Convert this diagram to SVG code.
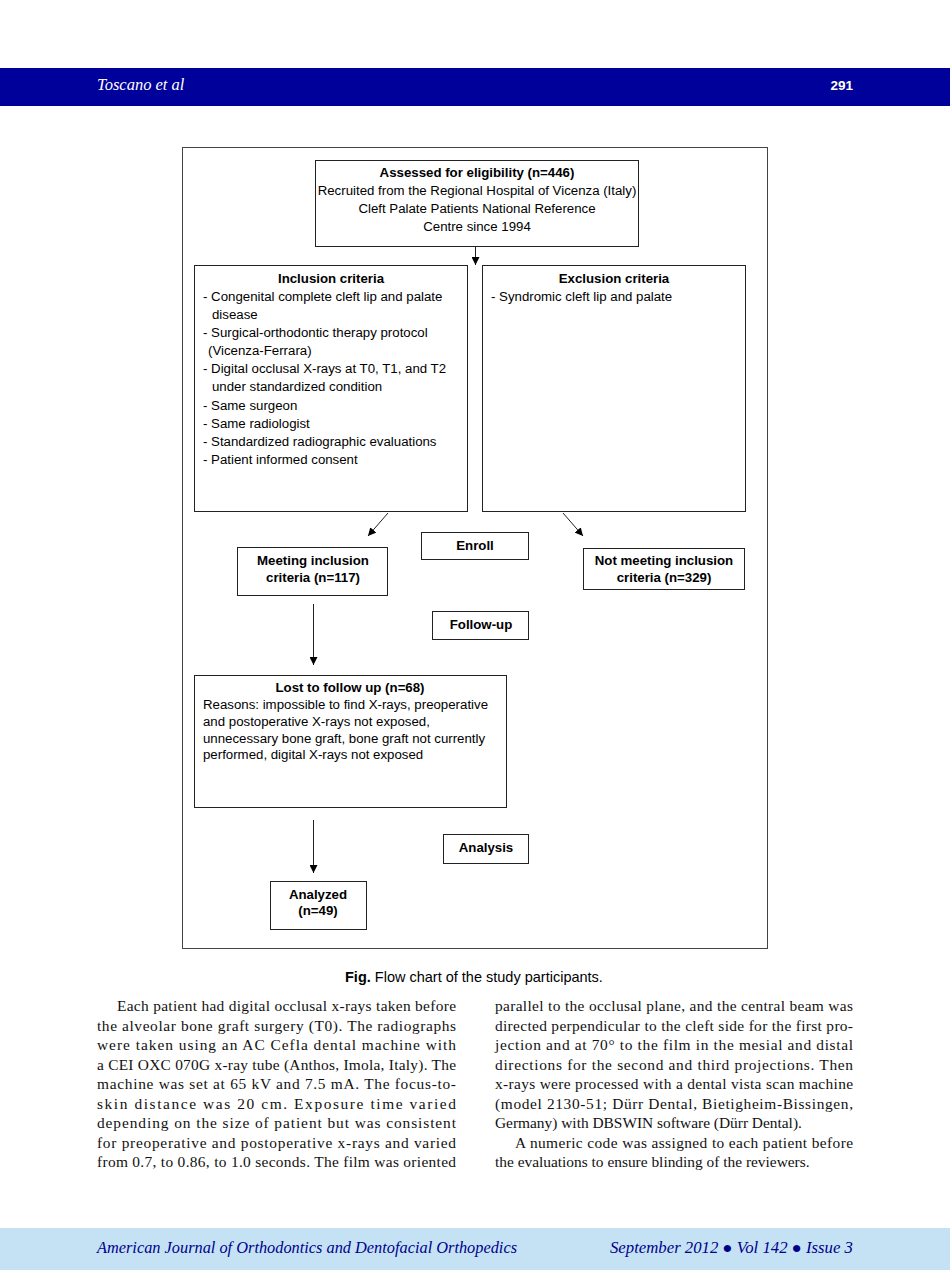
<svg xmlns="http://www.w3.org/2000/svg" width="950" height="1272" viewBox="0 0 950 1272">
<style>
.bx{fill:#fff;stroke:#222;stroke-width:1}
.t{font-family:"Liberation Sans",Arial,sans-serif;font-size:13.25px;fill:#000}
.b{font-weight:bold}
.c{text-anchor:middle}
.body{font-family:"Liberation Serif","Times New Roman",serif;font-size:15.4px;fill:#111}
.ft{font-family:"Liberation Serif",serif;font-style:italic;font-size:16.3px;fill:#00008b}
.cn{stroke:#222;stroke-width:1;fill:none;marker-end:url(#ah)}
</style>
<defs>
<marker id="ah" viewBox="0 0 10 10" refX="10" refY="5" markerWidth="8" markerHeight="8" markerUnits="userSpaceOnUse" orient="auto">
<path d="M0,0 L10,5 L0,10 z" fill="#000"/>
</marker>
</defs>
<rect width="950" height="1272" fill="#fff"/>
<g id="header">
<rect x="0" y="68" width="950" height="38" fill="#00009a"/>
<text x="97" y="90" font-family="Liberation Serif,serif" font-style="italic" font-size="16.5" fill="#fff">Toscano et al</text>
<text x="853" y="90" font-family="Liberation Sans,sans-serif" font-weight="bold" font-size="13.5" fill="#fff" text-anchor="end">291</text>
</g>
<rect id="frame" x="182.5" y="147.5" width="585" height="801" fill="none" stroke="#444" stroke-width="1"/>
<g id="connectors">
<line class="cn" x1="475.5" y1="247" x2="475.5" y2="265"/>
<line class="cn" x1="388" y1="513" x2="368" y2="536"/>
<line class="cn" x1="563" y1="513" x2="583" y2="536"/>
<line class="cn" x1="313.5" y1="604" x2="313.5" y2="665"/>
<line class="cn" x1="313.5" y1="820" x2="313.5" y2="873"/>
</g>
<g id="assessed">
<rect class="bx" x="315.5" y="160.5" width="323" height="86"/>
<text class="t b c" x="477" y="177">Assessed for eligibility (n=446)</text>
<text class="t c" x="477" y="195">Recruited from the Regional Hospital of Vicenza (Italy)</text>
<text class="t c" x="477" y="213">Cleft Palate Patients National Reference</text>
<text class="t c" x="477" y="231">Centre since 1994</text>
</g>
<g id="inclusion">
<rect class="bx" x="194.5" y="265.5" width="273" height="246"/>
<text class="t b c" x="331" y="283">Inclusion criteria</text>
<text class="t" x="203" y="301">- Congenital complete cleft lip and palate</text>
<text class="t" x="212" y="319">disease</text>
<text class="t" x="203" y="337">- Surgical-orthodontic therapy protocol</text>
<text class="t" x="208" y="355">(Vicenza-Ferrara)</text>
<text class="t" x="203" y="373">- Digital occlusal X-rays at T0, T1, and T2</text>
<text class="t" x="212" y="391">under standardized condition</text>
<text class="t" x="203" y="410">- Same surgeon</text>
<text class="t" x="203" y="428">- Same radiologist</text>
<text class="t" x="203" y="446">- Standardized radiographic evaluations</text>
<text class="t" x="203" y="464">- Patient informed consent</text>
</g>
<g id="exclusion">
<rect class="bx" x="482.5" y="265.5" width="263" height="246"/>
<text class="t b c" x="614" y="283">Exclusion criteria</text>
<text class="t" x="491" y="301">- Syndromic cleft lip and palate</text>
</g>
<g id="enroll">
<rect class="bx" x="421.5" y="532.5" width="107" height="27"/>
<text class="t b c" x="475" y="550">Enroll</text>
</g>
<g id="meeting">
<rect class="bx" x="237.5" y="547.5" width="150" height="48"/>
<text class="t b c" x="313" y="565">Meeting inclusion</text>
<text class="t b c" x="313" y="582">criteria (n=117)</text>
</g>
<g id="notmeeting">
<rect class="bx" x="583.5" y="548.5" width="161" height="41"/>
<text class="t b c" x="664" y="565">Not meeting inclusion</text>
<text class="t b c" x="664" y="582">criteria (n=329)</text>
</g>
<g id="followup">
<rect class="bx" x="432.5" y="611.5" width="96" height="28"/>
<text class="t b c" x="481" y="629">Follow-up</text>
</g>
<g id="lost">
<rect class="bx" x="194.5" y="675.5" width="312" height="132"/>
<text class="t b c" x="350" y="692">Lost to follow up (n=68)</text>
<text class="t" x="203" y="709">Reasons: impossible to find X-rays, preoperative</text>
<text class="t" x="203" y="726">and postoperative X-rays not exposed,</text>
<text class="t" x="203" y="743">unnecessary bone graft, bone graft not currently</text>
<text class="t" x="203" y="759">performed, digital X-rays not exposed</text>
</g>
<g id="analysis">
<rect class="bx" x="443.5" y="834.5" width="85" height="29"/>
<text class="t b c" x="486" y="852">Analysis</text>
</g>
<g id="analyzed">
<rect class="bx" x="270.5" y="881.5" width="96" height="48"/>
<text class="t b c" x="318" y="899">Analyzed</text>
<text class="t b c" x="318" y="915">(n=49)</text>
</g>
<g id="caption">
<text x="345" y="982" font-family="Liberation Sans,Arial,sans-serif" font-size="14.5" fill="#000"><tspan font-weight="bold">Fig.</tspan> Flow chart of the study participants.</text>
</g>
<g id="bodytext">
<text class="body" x="117" y="1011" textLength="339" lengthAdjust="spacing">Each patient had digital occlusal x-rays taken before</text>
<text class="body" x="97" y="1031" textLength="359" lengthAdjust="spacing">the alveolar bone graft surgery (T0). The radiographs</text>
<text class="body" x="97" y="1050" textLength="359" lengthAdjust="spacing">were taken using an AC Cefla dental machine with</text>
<text class="body" x="97" y="1070" textLength="359" lengthAdjust="spacing">a CEI OXC 070G x-ray tube (Anthos, Imola, Italy). The</text>
<text class="body" x="97" y="1089" textLength="359" lengthAdjust="spacing">machine was set at 65 kV and 7.5 mA. The focus-to-</text>
<text class="body" x="97" y="1109" textLength="359" lengthAdjust="spacing">skin distance was 20 cm. Exposure time varied</text>
<text class="body" x="97" y="1128" textLength="359" lengthAdjust="spacing">depending on the size of patient but was consistent</text>
<text class="body" x="97" y="1148" textLength="359" lengthAdjust="spacing">for preoperative and postoperative x-rays and varied</text>
<text class="body" x="97" y="1167" textLength="359" lengthAdjust="spacing">from 0.7, to 0.86, to 1.0 seconds. The film was oriented</text>
<text class="body" x="495" y="1011" textLength="358" lengthAdjust="spacing">parallel to the occlusal plane, and the central beam was</text>
<text class="body" x="495" y="1031" textLength="358" lengthAdjust="spacing">directed perpendicular to the cleft side for the first pro-</text>
<text class="body" x="495" y="1050" textLength="358" lengthAdjust="spacing">jection and at 70° to the film in the mesial and distal</text>
<text class="body" x="495" y="1070" textLength="358" lengthAdjust="spacing">directions for the second and third projections. Then</text>
<text class="body" x="495" y="1089" textLength="358" lengthAdjust="spacing">x-rays were processed with a dental vista scan machine</text>
<text class="body" x="495" y="1109" textLength="358" lengthAdjust="spacing">(model 2130-51; Dürr Dental, Bietigheim-Bissingen,</text>
<text class="body" x="495" y="1128">Germany) with DBSWIN software (Dürr Dental).</text>
<text class="body" x="515" y="1148" textLength="338" lengthAdjust="spacing">A numeric code was assigned to each patient before</text>
<text class="body" x="495" y="1167">the evaluations to ensure blinding of the reviewers.</text>
</g>
<g id="footer">
<rect x="0" y="1228" width="950" height="42" fill="#c5e2f5"/>
<text class="ft" x="97" y="1253" textLength="420" lengthAdjust="spacingAndGlyphs">American Journal of Orthodontics and Dentofacial Orthopedics</text>
<text class="ft" x="610" y="1253" textLength="243" lengthAdjust="spacingAndGlyphs">September 2012 ● Vol 142 ● Issue 3</text>
</g>
</svg>
